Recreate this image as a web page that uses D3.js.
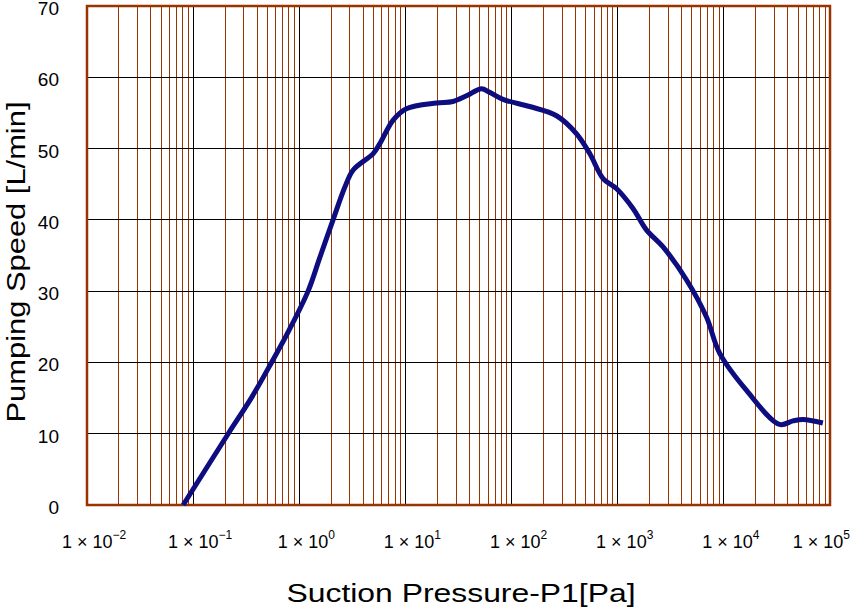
<!DOCTYPE html>
<html>
<head>
<meta charset="utf-8">
<script src="https://cdn.jsdelivr.net/npm/d3@7"></script>
<style>
  html, body { margin: 0; padding: 0; background: #fff; }
  svg { display: block; font-family: "Liberation Sans", Arial, sans-serif; }
</style>
</head>
<body>
<svg id="chart" width="851" height="607"></svg>
<script>
// ---- data ----
const pressure = [0.0805, 0.214, 0.356, 0.548, 0.80, 1.21, 1.56, 2.08, 2.69, 3.22, 4.97, 5.74, 7.66, 10.2, 19.6, 28, 37.6, 52, 62, 83, 148, 265, 408, 545, 728, 971, 1393, 1862, 2673, 4436, 6842, 9120, 16290, 33500, 44700, 55600, 85700];
const speed    = [0, 10, 15.1, 20, 24.5, 30, 34.7, 40, 44.6, 47.0, 49.3, 50.7, 54.0, 55.6, 56.4, 56.6, 57.4, 58.4, 57.9, 56.9, 55.9, 54.6, 52.1, 49.3, 45.8, 44.4, 41.6, 38.6, 36.2, 31.6, 26.4, 21.3, 16.1, 11.3, 11.8, 12.0, 11.5];
const xDecadeExponents = [-2, -1, 0, 1, 2, 3, 4, 5];
const yTicks = [0, 10, 20, 30, 40, 50, 60, 70];
const xTitle = "Suction Pressure-P1[Pa]";
const yTitle = "Pumping Speed [L/min]";

// ---- layout ----
const W = 851, H = 607;
const margin = {left: 87, top: 6, right: 21, bottom: 102};
const brown = "#993300";
const navy = "#0d0d80";

const svg = d3.select("#chart");
const x = d3.scaleLog().domain([1e-2, 1e5]).range([margin.left, W - margin.right]);
const y = d3.scaleLinear().domain([0, 70]).range([H - margin.bottom, margin.top]);

// minor vertical grid
const minor = [];
for (let e = -2; e < 5; e++) for (let m = 2; m <= 9; m++) minor.push(m * Math.pow(10, e));
svg.append("g").selectAll("line").data(minor).join("line")
  .attr("x1", d => x(d)).attr("x2", d => x(d))
  .attr("y1", y(0)).attr("y2", y(70))
  .attr("stroke", brown).attr("stroke-width", 1).attr("shape-rendering", "crispEdges");

// major vertical grid
svg.append("g").selectAll("line").data(xDecadeExponents.slice(1, -1)).join("line")
  .attr("x1", d => x(Math.pow(10, d))).attr("x2", d => x(Math.pow(10, d)))
  .attr("y1", y(0)).attr("y2", y(70))
  .attr("stroke", "#000").attr("stroke-width", 1).attr("shape-rendering", "crispEdges");

// horizontal grid
svg.append("g").selectAll("line").data(yTicks.slice(1, -1)).join("line")
  .attr("x1", x(1e-2)).attr("x2", x(1e5))
  .attr("y1", d => y(d)).attr("y2", d => y(d))
  .attr("stroke", "#000").attr("stroke-width", 1).attr("shape-rendering", "crispEdges");

// frame
svg.append("rect")
  .attr("x", x(1e-2)).attr("y", y(70))
  .attr("width", x(1e5) - x(1e-2)).attr("height", y(0) - y(70))
  .attr("fill", "none").attr("stroke", brown).attr("stroke-width", 2.5);

// curve
const line = d3.line()
  .x((d, i) => x(pressure[i]))
  .y((d, i) => y(speed[i]))
  .curve(d3.curveCatmullRom.alpha(0.5));
svg.append("path")
  .attr("d", line(speed))
  .attr("fill", "none").attr("stroke", navy).attr("stroke-width", 5)
  .attr("stroke-linejoin", "round").attr("stroke-linecap", "butt");

// y tick labels
svg.append("g").selectAll("text").data(yTicks).join("text")
  .attr("x", 59).attr("y", d => y(d) + 2.5)
  .attr("text-anchor", "end").attr("dominant-baseline", "central")
  .attr("font-size", 19).attr("fill", "#000")
  .text(d => d);

// x tick labels
const xl = svg.append("g").selectAll("text").data(xDecadeExponents).join("text")
  .attr("x", (d, i) => i === xDecadeExponents.length - 1 ? W - 1 : x(Math.pow(10, d)) + 7)
  .attr("y", 548)
  .attr("text-anchor", (d, i) => i === xDecadeExponents.length - 1 ? "end" : "middle")
  .attr("font-size", 18).attr("fill", "#000");
xl.append("tspan").text("1 \u00d7 10");
xl.append("tspan").attr("dy", -9).attr("font-size", 12).text(d => d < 0 ? "\u2212" + (-d) : String(d));

// axis titles
svg.append("text")
  .attr("x", 461).attr("y", 602)
  .attr("text-anchor", "middle").attr("font-size", 26)
  .attr("textLength", 349).attr("lengthAdjust", "spacingAndGlyphs")
  .text(xTitle);
svg.append("text")
  .attr("transform", "translate(25,262) rotate(-90)")
  .attr("text-anchor", "middle").attr("font-size", 26)
  .attr("textLength", 321).attr("lengthAdjust", "spacingAndGlyphs")
  .text(yTitle);
</script>
</body>
</html>
